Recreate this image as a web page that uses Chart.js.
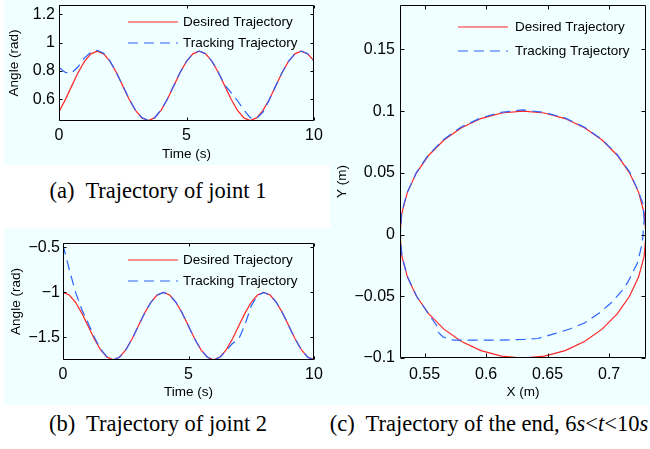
<!DOCTYPE html>
<html><head><meta charset="utf-8">
<script src="https://cdn.jsdelivr.net/npm/chart.js@4.4.0/dist/chart.umd.min.js"></script>
<style>
body{margin:0;width:650px;height:449px;background:#fff;position:relative;overflow:hidden;font-family:"Liberation Sans",Arial,sans-serif}
.bg{position:absolute;background:#f0ffff}
.box{position:absolute}
.cap{position:absolute;font-family:"Liberation Serif","Times New Roman",serif;font-size:22.5px;line-height:26px;color:#000;white-space:nowrap;transform:translateX(-50%)}
</style></head><body>
<div class="bg" style="left:4px;top:0;width:326px;height:165px"></div>
<div class="bg" style="left:4px;top:228px;width:326px;height:177px"></div>
<div class="bg" style="left:330px;top:0;width:320px;height:405px"></div>
<div class="box" style="left:0;top:0;width:330px;height:165px"><canvas id="cA" width="330" height="165"></canvas></div>
<div class="box" style="left:0;top:228px;width:330px;height:177px"><canvas id="cB" width="330" height="177"></canvas></div>
<div class="box" style="left:330px;top:0;width:320px;height:405px"><canvas id="cC" width="320" height="405"></canvas></div>
<div class="cap" style="left:158px;top:178px">(a)&nbsp; Trajectory of joint 1</div>
<div class="cap" style="left:158px;top:411px">(b)&nbsp; Trajectory of joint 2</div>
<div class="cap" style="left:489px;top:411px">(c)&nbsp; Trajectory of the end, 6<i>s</i>&lt;<i>t</i>&lt;10<i>s</i></div>
<script>
// ---------- data ----------
const seriesNames = ['Desired Trajectory', 'Tracking Trajectory'];
const timeSec = [0,0.25,0.5,0.75,1,1.25,1.5,1.75,2,2.25,2.5,2.75,3,3.25,3.5,3.75,4,4.25,4.5,4.75,5,5.25,5.5,5.75,6,6.25,6.5,6.75,7,7.25,7.5,7.75,8,8.25,8.5,8.75,9,9.25,9.5,9.75,10];
const jointOneDesired = [0.512,0.598,0.695,0.789,0.868,0.921,0.940,0.921,0.868,0.789,0.695,0.601,0.522,0.469,0.450,0.469,0.522,0.601,0.695,0.789,0.868,0.921,0.940,0.921,0.868,0.789,0.695,0.601,0.522,0.469,0.450,0.469,0.522,0.601,0.695,0.789,0.868,0.921,0.940,0.921,0.872];
const jointOneTracking = [0.825,0.790,0.787,0.830,0.893,0.932,0.946,0.925,0.870,0.790,0.697,0.603,0.523,0.470,0.452,0.470,0.524,0.602,0.696,0.790,0.869,0.922,0.941,0.922,0.869,0.790,0.700,0.648,0.590,0.525,0.470,0.465,0.510,0.598,0.695,0.789,0.868,0.921,0.941,0.922,0.870];
const jointTwoDesired = [-1.000,-1.029,-1.110,-1.231,-1.375,-1.519,-1.640,-1.721,-1.750,-1.721,-1.640,-1.519,-1.375,-1.231,-1.110,-1.029,-1.000,-1.029,-1.110,-1.231,-1.375,-1.519,-1.640,-1.721,-1.750,-1.721,-1.640,-1.519,-1.375,-1.231,-1.110,-1.029,-1.000,-1.029,-1.110,-1.231,-1.375,-1.519,-1.640,-1.721,-1.750];
const jointTwoTracking = [-0.470,-0.745,-1.000,-1.190,-1.340,-1.500,-1.632,-1.718,-1.750,-1.722,-1.641,-1.520,-1.376,-1.232,-1.111,-1.030,-1.000,-1.030,-1.111,-1.232,-1.376,-1.520,-1.641,-1.722,-1.750,-1.722,-1.650,-1.570,-1.520,-1.360,-1.150,-1.035,-1.000,-1.030,-1.111,-1.232,-1.376,-1.520,-1.641,-1.722,-1.750];
const endDesiredX = [0.7300,0.7285,0.7240,0.7166,0.7066,0.6943,0.6800,0.6642,0.6474,0.6300,0.6126,0.5958,0.5800,0.5657,0.5534,0.5434,0.5360,0.5315,0.5300,0.5315,0.5360,0.5434,0.5534,0.5657,0.5800,0.5958,0.6126,0.6300,0.6474,0.6642,0.6800,0.6943,0.7066,0.7166,0.7240,0.7285,0.7300];
const endDesiredY = [0.0000,0.0174,0.0342,0.0500,0.0643,0.0766,0.0866,0.0940,0.0985,0.1000,0.0985,0.0940,0.0866,0.0766,0.0643,0.0500,0.0342,0.0174,0.0000,-0.0174,-0.0342,-0.0500,-0.0643,-0.0766,-0.0866,-0.0940,-0.0985,-0.1000,-0.0985,-0.0940,-0.0866,-0.0766,-0.0643,-0.0500,-0.0342,-0.0174,0.0000];
const endTrackX = [0.7285,0.7275,0.7240,0.7168,0.7068,0.6945,0.6800,0.6640,0.6470,0.6300,0.6120,0.5955,0.5795,0.5655,0.5530,0.5432,0.5358,0.5312,0.5303,0.5316,0.5362,0.5436,0.5540,0.5600,0.5610,0.5650,0.5730,0.5900,0.6100,0.6300,0.6420,0.6550,0.6680,0.6800,0.6920,0.7020,0.7100,0.7150,0.7230,0.7270,0.7285];
const endTrackY = [0.0120,0.0250,0.0345,0.0505,0.0645,0.0768,0.0870,0.0945,0.0990,0.1010,0.0990,0.0945,0.0870,0.0770,0.0645,0.0500,0.0340,0.0172,0.0000,-0.0175,-0.0345,-0.0502,-0.0655,-0.0740,-0.0790,-0.0830,-0.0855,-0.0855,-0.0855,-0.0850,-0.0842,-0.0805,-0.0765,-0.0716,-0.0635,-0.0550,-0.0460,-0.0390,-0.0230,-0.0070,0.0120];
const timeTicks = [0,5,10];
const jointOneTicks = [0.6,0.8,1,1.2];
const jointTwoTicks = [-1.5,-1,-0.5];
const endXTicks = [0.55,0.6,0.65,0.7];
const endYTicks = [-0.1,-0.05,0,0.05,0.1,0.15];

// ---------- helpers ----------
const FAM = '"Liberation Sans", Arial, Helvetica, sans-serif';
const RED = '#ff2626', BLUE = '#2b63ff';
const pts = (xs, ys) => xs.map((x, i) => ({x: x, y: ys[i]}));
const fmt = v => String(v).replace('-', '\u2212');

function datasets(d, t) {
  return [
    {label: seriesNames[0], data: d, borderColor: RED, borderWidth: 1.2, pointRadius: 0, showLine: true, tension: 0, order: 1},
    {label: seriesNames[1], data: t, borderColor: BLUE, borderWidth: 1.2, borderDash: [10, 6], pointRadius: 0, showLine: true, tension: 0, order: 0}
  ];
}

function axis(o) {
  const isY = o.pos === 'left';
  return {
    type: 'linear', position: o.pos, min: o.min, max: o.max,
    grid: {display: false, drawTicks: false},
    border: {display: false},
    afterBuildTicks: s => { s.ticks = o.ticks.map(v => ({value: v})); },
    afterFit: s => {
      if (isY) { s.width = o.size; s.paddingTop = 0; s.paddingBottom = 0; }
      else { s.height = o.size; s.paddingLeft = 0; s.paddingRight = 0; }
    },
    ticks: {color: '#000', font: {family: FAM, size: 16}, padding: o.tickPad, autoSkip: false, maxRotation: 0, minRotation: 0, callback: v => fmt(v)},
    title: {display: true, text: o.title, color: '#000', font: {family: FAM, size: 13.5},
      padding: isY ? {top: o.titlePad, bottom: 0} : {top: 0, bottom: o.titlePad}}
  };
}

const innerLegend = {
  id: 'innerLegend',
  afterDatasetsDraw(chart, args, opts) {
    const {ctx, chartArea} = chart;
    ctx.save();
    ctx.font = '13.5px ' + FAM;
    ctx.textBaseline = 'middle';
    ctx.textAlign = 'left';
    chart.data.datasets.forEach((ds, i) => {
      const y = Math.round(chartArea.top + opts.top + i * opts.gap);
      const x0 = Math.round(chartArea.left + opts.left);
      ctx.strokeStyle = ds.borderColor;
      ctx.lineWidth = ds.borderWidth;
      ctx.setLineDash(ds.borderDash || []);
      ctx.beginPath(); ctx.moveTo(x0, y); ctx.lineTo(x0 + opts.len, y); ctx.stroke();
      ctx.setLineDash([]);
      ctx.fillStyle = '#000';
      ctx.fillText(ds.label, x0 + opts.len + opts.textGap, y);
    });
    ctx.restore();
  }
};

const matBox = {
  id: 'matBox',
  afterDraw(chart, args, opts) {
    const {ctx, chartArea: a, scales} = chart;
    const L = Math.round(a.left) + 0.5, R = Math.round(a.right) - 0.5;
    const T = Math.round(a.top) + 0.5, B = Math.round(a.bottom) - 0.5;
    const len = opts.len;
    ctx.save();
    ctx.strokeStyle = '#000'; ctx.lineWidth = 1; ctx.setLineDash([]);
    ctx.beginPath();
    ctx.rect(L, T, R - L, B - T);
    scales.x.ticks.forEach(t => {
      const px = Math.round(scales.x.getPixelForValue(t.value)) + 0.5;
      ctx.moveTo(px, B); ctx.lineTo(px, B - len);
      ctx.moveTo(px, T); ctx.lineTo(px, T + len);
    });
    scales.y.ticks.forEach(t => {
      const py = Math.round(scales.y.getPixelForValue(t.value)) + 0.5;
      ctx.moveTo(L, py); ctx.lineTo(L + len, py);
      ctx.moveTo(R, py); ctx.lineTo(R - len, py);
    });
    ctx.stroke();
    ctx.restore();
  }
};

function make(id, cfg) {
  return new Chart(document.getElementById(id), {
    type: 'scatter',
    data: {datasets: cfg.datasets},
    options: {
      responsive: false, animation: false, devicePixelRatio: 1,
      layout: {padding: cfg.padding},
      scales: {x: cfg.x, y: cfg.y},
      plugins: {legend: {display: false}, tooltip: {enabled: false},
        innerLegend: cfg.legend, matBox: {len: cfg.tickLen}}
    },
    plugins: [innerLegend, matBox]
  });
}

make('cA', {
  datasets: datasets(pts(timeSec, jointOneDesired), pts(timeSec, jointOneTracking)),
  padding: {top: 5, right: 16, left: 0, bottom: 0},
  x: axis({pos: 'bottom', min: 0, max: 10, ticks: timeTicks, size: 44, tickPad: 5, title: 'Time (s)', titlePad: 3}),
  y: axis({pos: 'left', min: 0.447, max: 1.266, ticks: jointOneTicks, size: 59, tickPad: 4, title: 'Angle (rad)', titlePad: 6}),
  legend: {left: 69, top: 17, gap: 21, len: 50, textGap: 5},
  tickLen: 3
});

make('cB', {
  datasets: datasets(pts(timeSec, jointTwoDesired), pts(timeSec, jointTwoTracking)),
  padding: {top: 15, right: 16, left: 0, bottom: 0},
  x: axis({pos: 'bottom', min: 0, max: 10, ticks: timeTicks, size: 45, tickPad: 5, title: 'Time (s)', titlePad: 5}),
  y: axis({pos: 'left', min: -1.753, max: -0.45, ticks: jointTwoTicks, size: 63, tickPad: 3, title: 'Angle (rad)', titlePad: 7.7}),
  legend: {left: 65, top: 17, gap: 21, len: 50, textGap: 5},
  tickLen: 3
});

make('cC', {
  datasets: datasets(pts(endDesiredX, endDesiredY), pts(endTrackX, endTrackY)),
  padding: {top: 5, right: 4, left: 0, bottom: 0},
  x: axis({pos: 'bottom', min: 0.53, max: 0.73, ticks: endXTicks, size: 47, tickPad: 7, title: 'X (m)', titlePad: 5}),
  y: axis({pos: 'left', min: -0.1, max: 0.186, ticks: endYTicks, size: 70, tickPad: 5, title: 'Y (m)', titlePad: 4}),
  legend: {left: 58, top: 22, gap: 23.5, len: 50, textGap: 7},
  tickLen: 4
});
</script>
</body></html>
